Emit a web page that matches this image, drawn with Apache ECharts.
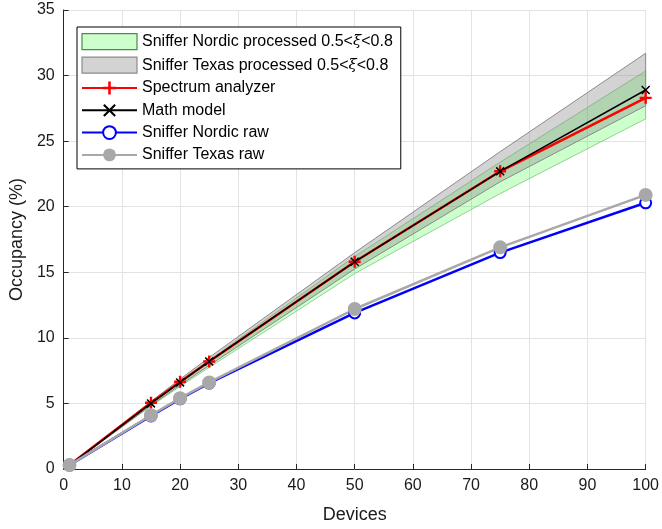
<!DOCTYPE html>
<html>
<head>
<meta charset="utf-8">
<script src="https://cdn.jsdelivr.net/npm/echarts@6/dist/echarts.min.js"></script>
<style>html,body{margin:0;padding:0;background:#fff}#c{width:662px;height:529px}</style>
</head>
<body>
<div id="c"></div>
<script>
var devices = [1, 15, 20, 25, 50, 75, 100];
var spectrum = [0.3, 5.05, 6.65, 8.2, 15.8, 22.7, 28.3];
var mathModel = [0.3, 5.0, 6.6, 8.2, 15.8, 22.7, 28.9];
var nordicRaw = [0.3, 4.05, 5.35, 6.55, 11.9, 16.5, 20.3];
var texasRaw = [0.3, 4.1, 5.4, 6.6, 12.2, 16.9, 20.9];
var nordicLow = [0.3, 4.8, 6.3, 7.75, 14.9, 21.0, 26.7];
var nordicHigh = [0.3, 5.05, 6.7, 8.3, 16.2, 23.4, 30.35];
var texasLow = [0.3, 4.85, 6.4, 7.9, 15.25, 21.9, 27.7];
var texasHigh = [0.3, 5.15, 6.85, 8.5, 16.5, 24.2, 31.7];
var xTicks = {min: 0, max: 100, interval: 10};
var yTicks = {min: 0, max: 35, interval: 5};

var NAMES = {
  nb: 'Sniffer Nordic processed 0.5<ξ<0.8',
  tb: 'Sniffer Texas processed 0.5<ξ<0.8',
  sa: 'Spectrum analyzer',
  mm: 'Math model',
  nr: 'Sniffer Nordic raw',
  tr: 'Sniffer Texas raw'
};

function pairs(ys) { return devices.map(function (x, i) { return [x, ys[i]]; }); }
function bandData(lo, hi) { return devices.map(function (x, i) { return [x, lo[i], hi[i]]; }); }

function bandRender(fill, stroke, width) {
  return function (params, api) {
    if (params.dataIndex !== 0) return null;
    var n = devices.length, pts = [], i;
    var upper = [], lower = [];
    for (i = 0; i < n; i++) lower.push(api.coord([api.value(0, i), api.value(1, i)]));
    for (i = 0; i < n; i++) upper.push(api.coord([api.value(0, i), api.value(2, i)]));
    for (i = 0; i < n; i++) pts.push(lower[i]);
    for (i = n - 1; i >= 0; i--) pts.push(upper[i]);
    return {
      type: 'polygon',
      shape: {points: pts},
      style: {fill: fill, stroke: stroke, lineWidth: width}
    };
  };
}

var FONT = '"Liberation Sans", Arial, Helvetica, sans-serif';
var plusPath = 'path://M4,0H6V4H10V6H6V10H4V6H0V4H4Z';
var xPath = 'path://M0,1.2L1.2,0L10,8.8L8.8,10ZM8.8,0L10,1.2L1.2,10L0,8.8Z';

var chart = echarts.init(document.getElementById('c'), null, {renderer: 'canvas'});
chart.setOption({
  animation: false,
  backgroundColor: '#fff',
  grid: {left: 62, right: 14, top: 10, bottom: 55, containLabel: false},
  xAxis: {
    type: 'value', min: xTicks.min, max: xTicks.max, interval: xTicks.interval,
    name: 'Devices', nameLocation: 'middle', nameGap: 37,
    nameTextStyle: {fontSize: 18, color: '#1a1a1a', fontFamily: FONT},
    axisLine: {show: true, lineStyle: {color: '#262626', width: 1}},
    axisTick: {show: true, inside: true, length: 5, lineStyle: {color: '#262626'}},
    axisLabel: {fontSize: 16, color: '#1a1a1a', margin: 9, fontFamily: FONT},
    splitLine: {show: true, lineStyle: {color: '#e3e3e3', width: 1}}
  },
  yAxis: {
    type: 'value', min: yTicks.min, max: yTicks.max, interval: yTicks.interval,
    name: 'Occupancy (%)', nameLocation: 'middle', nameGap: 34,
    nameTextStyle: {fontSize: 18, color: '#1a1a1a', fontFamily: FONT},
    axisLine: {show: true, lineStyle: {color: '#262626', width: 1}},
    axisTick: {show: true, inside: true, length: 5, lineStyle: {color: '#262626'}},
    axisLabel: {fontSize: 16, color: '#1a1a1a', margin: 9, fontFamily: FONT},
    splitLine: {show: true, lineStyle: {color: '#e3e3e3', width: 1}}
  },
  legend: {
    orient: 'vertical', left: 77, top: 27,
    padding: [6, 8, 6, 4],
    itemWidth: 55, itemHeight: 16, itemGap: 6.3,
    backgroundColor: '#fff', borderColor: '#000', borderWidth: 1,
    textStyle: {fontSize: 16, color: '#000', fontFamily: FONT, lineHeight: 16,
      rich: {i: {fontStyle: 'italic', fontFamily: '"DejaVu Serif", serif', fontSize: 15, lineHeight: 16, color: '#000'}}},
    formatter: function (n) { return n.replace('ξ', '{i|ξ}'); },
    data: [
      {name: NAMES.nb, icon: 'rect', itemStyle: {color: '#ccffcc', borderColor: '#4a8a4a', borderWidth: 1.2}},
      {name: NAMES.tb, icon: 'rect', itemStyle: {color: '#d3d3d3', borderColor: '#8c8c8c', borderWidth: 1.2}},
      {name: NAMES.sa}, {name: NAMES.mm}, {name: NAMES.nr}, {name: NAMES.tr}
    ]
  },
  series: [
    {type: 'custom', name: NAMES.nb, data: bandData(nordicLow, nordicHigh),
      encode: {x: 0, y: [1, 2]}, itemStyle: {color: '#ccffcc'}, silent: true,
      renderItem: bandRender('rgba(0,255,0,0.2)', '#7cc47c', 0.8)},
    {type: 'custom', name: NAMES.tb, data: bandData(texasLow, texasHigh),
      encode: {x: 0, y: [1, 2]}, itemStyle: {color: '#d3d3d3'}, silent: true,
      renderItem: bandRender('rgba(128,128,128,0.35)', '#8a8a8a', 1)},
    {type: 'line', name: NAMES.sa, data: pairs(spectrum), symbol: plusPath, symbolSize: 12,
      lineStyle: {color: '#ff0000', width: 2.5}, itemStyle: {color: '#ff0000'}},
    {type: 'line', name: NAMES.mm, data: pairs(mathModel), symbol: xPath, symbolSize: 9,
      lineStyle: {color: '#000000', width: 1.5}, itemStyle: {color: '#000000'}},
    {type: 'line', name: NAMES.nr, data: pairs(nordicRaw), symbol: 'emptyCircle', symbolSize: 11,
      lineStyle: {color: '#0000ff', width: 2.5}, itemStyle: {color: '#0000ff', borderColor: '#0000ff', borderWidth: 2.5}},
    {type: 'line', name: NAMES.tr, data: pairs(texasRaw), symbol: 'circle', symbolSize: 14,
      lineStyle: {color: '#a8a8a8', width: 2.5}, itemStyle: {color: '#a8a8a8'}}
  ]
});
</script>
</body>
</html>
